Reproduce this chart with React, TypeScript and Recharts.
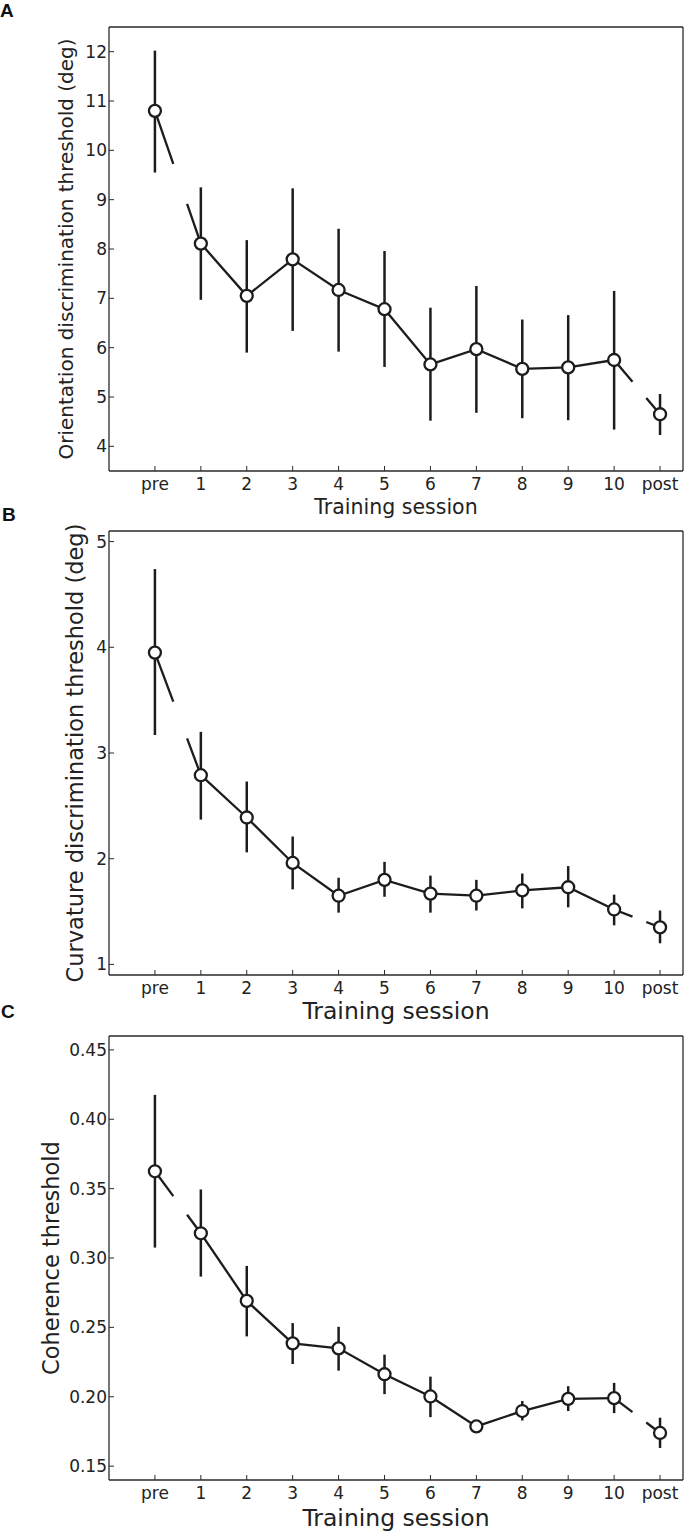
import React from 'react'
import { LineChart, Line, XAxis, YAxis, ErrorBar, ReferenceLine } from 'recharts'

const INK = '#1c1c1c'
const SPINE = '#2a2a2a'
const FONT = 'DejaVu Sans'

// x positions: pre = 0, sessions 1..10, post = 11
const sessions = [0, 1, 2, 3, 4, 5, 6, 7, 8, 9, 10, 11]
const sessionLabels = ['pre', '1', '2', '3', '4', '5', '6', '7', '8', '9', '10', 'post']

// A: orientation discrimination
const orientMean = [10.8, 8.11, 7.05, 7.79, 7.17, 6.78, 5.66, 5.97, 5.57, 5.6, 5.75, 4.65]
const orientLow = [9.55, 6.97, 5.9, 6.34, 5.92, 5.61, 4.52, 4.68, 4.57, 4.53, 4.34, 4.23]
const orientHigh = [12.02, 9.25, 8.18, 9.23, 8.41, 7.96, 6.81, 7.25, 6.57, 6.66, 7.15, 5.06]
const orientTicks = [4, 5, 6, 7, 8, 9, 10, 11, 12]

// B: curvature discrimination
const curvMean = [3.95, 2.79, 2.39, 1.96, 1.65, 1.8, 1.67, 1.65, 1.7, 1.73, 1.52, 1.35]
const curvLow = [3.17, 2.37, 2.06, 1.71, 1.49, 1.64, 1.49, 1.51, 1.53, 1.54, 1.37, 1.2]
const curvHigh = [4.74, 3.2, 2.73, 2.21, 1.82, 1.97, 1.84, 1.8, 1.86, 1.93, 1.66, 1.51]
const curvTicks = [1, 2, 3, 4, 5]

// C: coherence
const cohMean = [0.3625, 0.3178, 0.2691, 0.2385, 0.2349, 0.2162, 0.2002, 0.1786, 0.1897, 0.1985, 0.199, 0.1739]
const cohLow = [0.3075, 0.2866, 0.2435, 0.2236, 0.2188, 0.2019, 0.1853, 0.1745, 0.1829, 0.1897, 0.1882, 0.1631]
const cohHigh = [0.4176, 0.3494, 0.2943, 0.2531, 0.2504, 0.2303, 0.2145, 0.1812, 0.1969, 0.2076, 0.21, 0.1849]
const cohTicks = [0.15, 0.2, 0.25, 0.3, 0.35, 0.4, 0.45]

// where the pre->1 and 10->post connectors are broken
const GAP_FROM = 0.4
const GAP_TO = 0.7

type Row = { x: number; y: number; err: [number, number] }

function buildRows(mean: number[], low: number[], high: number[]): Row[] {
  return sessions.map((x, i) => ({ x, y: mean[i], err: [mean[i] - low[i], high[i] - mean[i]] }))
}

function along(a: Row, b: Row, f: number) {
  return { x: a.x + f * (b.x - a.x), y: a.y + f * (b.y - a.y) }
}

function brokenLinks(rows: Row[]) {
  const pairs = [
    [rows[0], rows[1]],
    [rows[10], rows[11]],
  ]
  const segs: { x: number; y: number }[][] = []
  pairs.forEach(([a, b]) => {
    segs.push([{ x: a.x, y: a.y }, along(a, b, GAP_FROM)])
    segs.push([along(a, b, GAP_TO), { x: b.x, y: b.y }])
  })
  return segs
}

interface PanelProps {
  rows: Row[]
  yDomain: [number, number]
  yTicks: number[]
  yTitle: string
  yTitleSize: number
  yTitleOffset: number
  xTitleSize: number
  yFormat?: (v: number) => string
  height: number
  margin: { top: number; bottom: number }
  xAxisHeight: number
  xTitleOffset: number
}

function Panel({
  rows,
  yDomain,
  yTicks,
  yTitle,
  yTitleSize,
  yTitleOffset,
  xTitleSize,
  yFormat = (v) => String(v),
  height,
  margin,
  xAxisHeight,
  xTitleOffset,
}: PanelProps) {
  const training = rows.slice(1, 11)
  const ends = [rows[0], rows[11]]
  const tickStyle = { fontSize: 17, fill: '#222', fontFamily: FONT }
  const axisLine = { stroke: SPINE, strokeWidth: 1.3 }
  const tickLine = { stroke: SPINE, strokeWidth: 1 }
  const dot = { r: 6, fill: '#fff', stroke: INK, strokeWidth: 2.3 }
  return (
    <LineChart
      width={684}
      height={height}
      margin={{ top: margin.top, right: 0, bottom: margin.bottom, left: 0 }}
      style={{ fontFamily: FONT }}
    >
      <XAxis
        dataKey="x"
        type="number"
        domain={[-1, 11.5]}
        ticks={sessions}
        interval={0}
        tickFormatter={(v) => sessionLabels[v]}
        tick={tickStyle}
        tickSize={-5}
        tickMargin={12}
        axisLine={axisLine}
        tickLine={tickLine}
        height={xAxisHeight}
        label={{
          value: 'Training session',
          position: 'insideBottom',
          offset: xTitleOffset,
          style: { fontSize: xTitleSize, fill: '#222', fontFamily: FONT },
        }}
      />
      <XAxis
        xAxisId="t"
        orientation="top"
        dataKey="x"
        type="number"
        domain={[-1, 11.5]}
        ticks={sessions}
        interval={0}
        tickFormatter={() => ''}
        tickSize={-5}
        axisLine={axisLine}
        tickLine={tickLine}
        height={1}
      />
      <YAxis
        type="number"
        domain={yDomain}
        ticks={yTicks}
        interval={0}
        tickFormatter={yFormat}
        tick={tickStyle}
        tickSize={-5}
        tickMargin={7}
        axisLine={axisLine}
        tickLine={tickLine}
        width={109}
        label={{
          value: yTitle,
          angle: -90,
          position: 'insideLeft',
          offset: yTitleOffset,
          style: { fontSize: yTitleSize, fill: '#222', fontFamily: FONT, textAnchor: 'middle' },
        }}
      />
      <YAxis
        yAxisId="r"
        orientation="right"
        type="number"
        domain={yDomain}
        ticks={yTicks}
        interval={0}
        tickFormatter={() => ''}
        tickSize={-5}
        axisLine={axisLine}
        tickLine={tickLine}
        width={1}
      />
      {brokenLinks(rows).map((seg, i) => (
        <ReferenceLine key={i} segment={seg} stroke={INK} strokeWidth={2.3} ifOverflow="visible" />
      ))}
      <Line
        data={training}
        dataKey="y"
        stroke={INK}
        strokeWidth={2.3}
        dot={dot}
        isAnimationActive={false}
      >
        <ErrorBar dataKey="err" width={0} stroke={INK} strokeWidth={2.5} />
      </Line>
      <Line
        data={ends}
        dataKey="y"
        stroke="none"
        strokeWidth={0}
        dot={dot}
        isAnimationActive={false}
      >
        <ErrorBar dataKey="err" width={0} stroke={INK} strokeWidth={2.5} />
      </Line>
    </LineChart>
  )
}

export default function App() {
  const orientRows = buildRows(orientMean, orientLow, orientHigh)
  const curvRows = buildRows(curvMean, curvLow, curvHigh)
  const cohRows = buildRows(cohMean, cohLow, cohHigh)
  return (
    <div style={{ position: 'absolute', left: 0, top: 0, width: 684, height: 1532, background: '#fff' }}>
      <Panel
        rows={orientRows}
        yDomain={[3.5, 12.5]}
        yTicks={orientTicks}
        yTitle="Orientation discrimination threshold (deg)"
        yTitleSize={20}
        yTitleOffset={66}
        xTitleSize={20.5}
        height={525}
        margin={{ top: 26, bottom: 10 }}
        xAxisHeight={44}
        xTitleOffset={1}
      />
      <Panel
        rows={curvRows}
        yDomain={[0.9, 5.1]}
        yTicks={curvTicks}
        yTitle="Curvature discrimination threshold (deg)"
        yTitleSize={22.5}
        yTitleOffset={75}
        xTitleSize={23.5}
        height={505}
        margin={{ top: 5, bottom: 10 }}
        xAxisHeight={45}
        xTitleOffset={1}
      />
      <Panel
        rows={cohRows}
        yDomain={[0.14, 0.46]}
        yTicks={cohTicks}
        yTitle="Coherence threshold"
        yTitleSize={22.5}
        yTitleOffset={51}
        xTitleSize={23.5}
        yFormat={(v) => v.toFixed(2)}
        height={502}
        margin={{ top: 5, bottom: 6 }}
        xAxisHeight={46}
        xTitleOffset={0}
      />
      <svg
        width={684}
        height={1532}
        style={{ position: 'absolute', left: 0, top: 0, pointerEvents: 'none' }}
      >
        <text x={0} y={17} fontSize={19} fontWeight="bold" fontFamily="Liberation Sans, Arial" fill="#111">
          A
        </text>
        <text x={2} y={521} fontSize={19} fontWeight="bold" fontFamily="Liberation Sans, Arial" fill="#111">
          B
        </text>
        <text x={1} y={1018} fontSize={19} fontWeight="bold" fontFamily="Liberation Sans, Arial" fill="#111">
          C
        </text>
      </svg>
    </div>
  )
}
